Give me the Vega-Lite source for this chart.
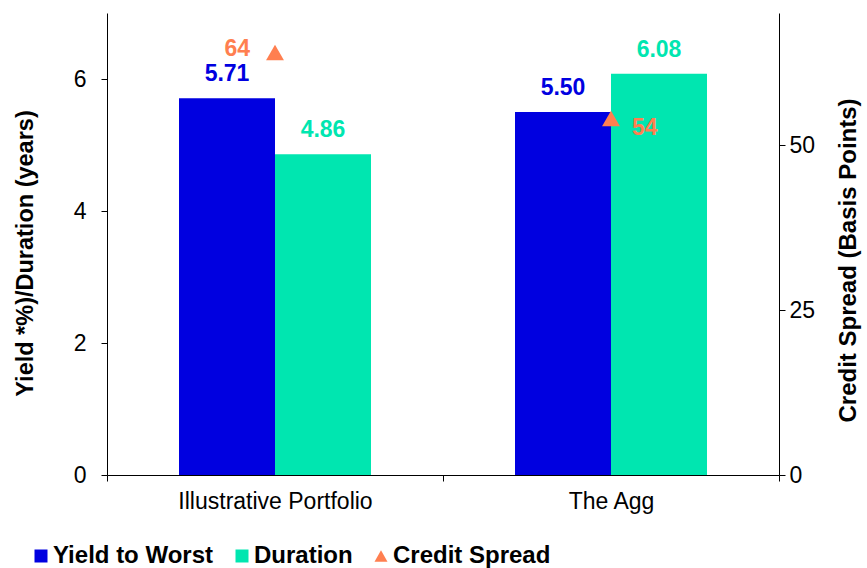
{
  "$schema": "https://vega.github.io/schema/vega-lite/v6.json",
  "width": 672,
  "height": 462,
  "autosize": {"type": "none"},
  "padding": {"left": 107, "top": 13, "right": 88, "bottom": 93},
  "background": "white",
  "config": {
    "font": "Liberation Sans",
    "view": {"stroke": null},
    "axis": {
      "grid": false,
      "domainColor": "#000000",
      "domainWidth": 1,
      "tickColor": "#000000",
      "tickWidth": 1,
      "tickSize": 6,
      "labelColor": "#000000",
      "labelFont": "Liberation Sans",
      "labelFontSize": 23,
      "labelLimit": 0,
      "titleColor": "#000000",
      "titleFont": "Liberation Sans",
      "titleFontSize": 23.5,
      "titleFontWeight": "bold"
    }
  },
  "datasets": {
    "bars": [
      {"portfolio": "Illustrative Portfolio", "series": "Yield to Worst", "value": 5.71},
      {"portfolio": "Illustrative Portfolio", "series": "Duration", "value": 4.86},
      {"portfolio": "The Agg", "series": "Yield to Worst", "value": 5.50},
      {"portfolio": "The Agg", "series": "Duration", "value": 6.08}
    ],
    "spread": [
      {"portfolio": "Illustrative Portfolio", "series": "Credit Spread", "spread": 64},
      {"portfolio": "The Agg", "series": "Credit Spread", "spread": 54}
    ]
  },
  "encoding": {
    "x": {
      "field": "portfolio",
      "type": "nominal",
      "sort": ["Illustrative Portfolio", "The Agg"],
      "scale": {"paddingInner": 0, "paddingOuter": 0},
      "axis": {
        "title": null,
        "labelAngle": 0,
        "tickBand": "extent",
        "labelPadding": 9
      }
    },
    "color": {
      "field": "series",
      "type": "nominal",
      "scale": {
        "domain": ["Yield to Worst", "Duration", "Credit Spread"],
        "range": ["#0000E0", "#00E6B0", "#FF7F50"]
      },
      "legend": {
        "orient": "none",
        "legendX": -78,
        "legendY": 531,
        "direction": "horizontal",
        "columns": 3,
        "title": null,
        "labelFont": "Liberation Sans",
        "labelFontSize": 24,
        "labelFontWeight": "bold",
        "labelColor": "#000000",
        "labelOffset": 0,
        "columnPadding": 16,
        "symbolSize": 169,
        "symbolStrokeWidth": 0,
        "symbolOpacity": 1,
        "labelLimit": 0
      }
    }
  },
  "layer": [
    {
      "data": {"name": "bars"},
      "encoding": {
        "xOffset": {
          "field": "series",
          "type": "nominal",
          "sort": ["Yield to Worst", "Duration"],
          "scale": {"paddingInner": 0, "paddingOuter": 0.75}
        },
        "y": {
          "field": "value",
          "type": "quantitative",
          "scale": {"domain": [0, 7], "nice": false},
          "axis": {
            "orient": "left",
            "values": [0, 2, 4, 6],
            "title": "Yield *%)/Duration (years)",
            "labelPadding": 15,
            "titlePadding": 36,
            "titleY": 240
          }
        }
      },
      "layer": [
        {"mark": {"type": "bar"}},
        {
          "mark": {
            "type": "text",
            "baseline": "alphabetic",
            "dy": -17,
            "fontSize": 23,
            "fontWeight": "bold"
          },
          "encoding": {
            "text": {"field": "value", "type": "quantitative", "format": ".2f"}
          }
        }
      ]
    },
    {
      "data": {"name": "spread"},
      "encoding": {
        "y": {
          "field": "spread",
          "type": "quantitative",
          "scale": {"domain": [0, 70], "nice": false},
          "axis": {
            "orient": "right",
            "values": [0, 25, 50],
            "title": "Credit Spread (Basis Points)",
            "titleAngle": 270,
            "titleBaseline": "top",
            "titleFontSize": 24,
            "titleY": 247,
            "labelPadding": 4,
            "titlePadding": 22
          }
        }
      },
      "layer": [
        {
          "mark": {"type": "point", "filled": true, "opacity": 1, "size": 320},
          "encoding": {
            "shape": {
              "field": "series",
              "type": "nominal",
              "scale": {
                "domain": ["Yield to Worst", "Duration", "Credit Spread"],
                "range": ["square", "square", "triangle-up"]
              },
              "legend": {
                "orient": "none",
                "legendX": -78,
                "legendY": 531,
                "direction": "horizontal",
                "columns": 3,
                "title": null,
                "labelFont": "Liberation Sans",
                "labelFontSize": 24,
                "labelFontWeight": "bold",
                "labelColor": "#000000",
                "labelOffset": 0,
                "columnPadding": 16,
                "symbolSize": 169,
                "symbolStrokeWidth": 0,
                "symbolOpacity": 1,
                "labelLimit": 0
              }
            }
          }
        },
        {
          "transform": [{"filter": "datum.portfolio === 'Illustrative Portfolio'"}],
          "mark": {
            "type": "text",
            "align": "right",
            "baseline": "middle",
            "dx": -25,
            "dy": -4,
            "fontSize": 23,
            "fontWeight": "bold",
            "color": "#FF7F50"
          },
          "encoding": {"text": {"field": "spread", "type": "quantitative", "format": "d"}}
        },
        {
          "transform": [{"filter": "datum.portfolio === 'The Agg'"}],
          "mark": {
            "type": "text",
            "align": "left",
            "baseline": "middle",
            "dx": 21,
            "dy": 9,
            "fontSize": 23,
            "fontWeight": "bold",
            "color": "#FF7F50"
          },
          "encoding": {"text": {"field": "spread", "type": "quantitative", "format": "d"}}
        }
      ]
    }
  ],
  "resolve": {"scale": {"y": "independent"}}
}
